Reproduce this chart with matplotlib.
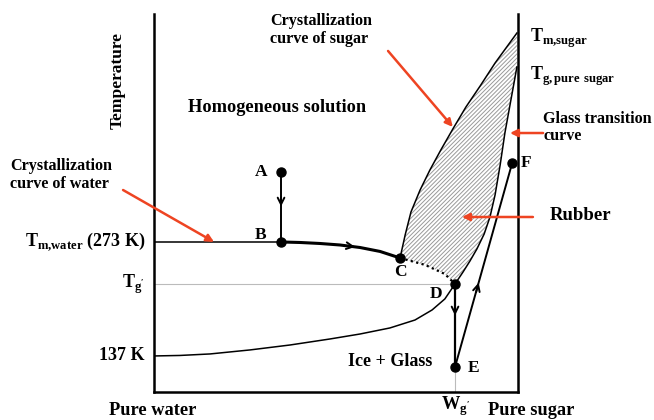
import matplotlib
matplotlib.use('Agg')
import matplotlib.pyplot as plt

plt.rcParams['font.family'] = 'Liberation Serif'
plt.rcParams['font.weight'] = 'bold'
plt.rcParams['mathtext.fontset'] = 'custom'
plt.rcParams['mathtext.rm'] = 'Liberation Serif:bold'
plt.rcParams['mathtext.bf'] = 'Liberation Serif:bold'
plt.rcParams['hatch.color'] = '#999999'
plt.rcParams['hatch.linewidth'] = 0.7

# composition = sugar fraction (0 = pure water, 1 = pure sugar), temperature in K (schematic)
water_x = [0, 0.181, 0.349, 0.401, 0.456, 0.511, 0.566, 0.621, 0.676]
water_T = [273, 273, 273, 272.4, 271.2, 269.4, 266.4, 261.7, 253.9]

dotted_x = [0.676, 0.745, 0.799, 0.827]
dotted_T = [253.9, 245.6, 234.8, 222.9]

glass_x = [0, 0.071, 0.154, 0.264, 0.374, 0.484, 0.566, 0.648, 0.717, 0.764, 0.799, 0.827,
           0.849, 0.868, 0.887, 0.907, 0.923, 0.937, 0.951, 0.964, 0.978, 0.997]
glass_T = [137, 137.6, 139.4, 144.2, 150.1, 157.3, 163.2, 170.4, 179.9, 191.9, 205.0, 222.9,
           237.2, 250.3, 264.6, 282.5, 302.8, 329.1, 364.9, 403.0, 436.4, 481.8]

sugar_x = [0.676, 0.690, 0.706, 0.731, 0.758, 0.788, 0.821, 0.857, 0.896, 0.937, 0.973, 0.997]
sugar_T = [253.9, 281.4, 308.8, 335.0, 358.9, 382.8, 407.8, 434.1, 459.1, 486.5, 508.0, 522.3]

points = {'A': (0.349, 356.5), 'B': (0.349, 273), 'C': (0.676, 253.9),
          'D': (0.827, 222.9), 'E': (0.827, 123.9), 'F': (0.984, 367.2)}

T_m_water = 273
T_g_prime = 222.9
T_low = 137
T_g_sugar = 481.8
T_m_sugar = 522.3

red = '#ee4422'

fig = plt.figure(figsize=(6.54, 4.2), dpi=100)
ax = fig.add_axes([154 / 654, 28 / 420, 364 / 654, 378 / 420])
ax.set_xlim(0, 1)
ax.set_ylim(94, 545)
ax.set_xticks([])
ax.set_yticks([])
ax.spines['top'].set_visible(False)
for s in ['left', 'bottom', 'right']:
    ax.spines[s].set_linewidth(1.8)

# hatched rubber region
d = glass_x.index(points['D'][0])
poly_x = sugar_x + glass_x[d:][::-1] + dotted_x[::-1]
poly_T = sugar_T + glass_T[d:][::-1] + dotted_T[::-1]
ax.fill(poly_x, poly_T, facecolor='none', edgecolor='#999999', hatch='////////', linewidth=0)

# reference lines
ax.plot([0, points['D'][0]], [T_g_prime, T_g_prime], color='#bbbbbb', lw=0.8)
ax.plot([points['E'][0], points['E'][0]], [94, points['E'][1]], color='#bbbbbb', lw=0.8)

# curves
ax.plot(water_x[:3], water_T[:3], color='black', lw=1.1)
ax.plot(water_x[2:], water_T[2:], color='black', lw=2.2)
ax.plot(dotted_x, dotted_T, color='black', lw=1.6, ls=(0, (1, 1.5)))
ax.plot(glass_x, glass_T, color='black', lw=1.1)
ax.plot(sugar_x, sugar_T, color='black', lw=1.1)

# path A-B, D-E, E-F
ax.plot([points['A'][0], points['B'][0]], [points['A'][1], points['B'][1]], color='black', lw=1.4)
ax.plot([points['D'][0], points['E'][0]], [points['D'][1], points['E'][1]], color='black', lw=1.6)
ax.plot([points['E'][0], points['F'][0]], [points['E'][1], points['F'][1]], color='black', lw=1.4)

for k in ['A', 'B', 'C', 'D', 'E', 'F']:
    ax.plot(*points[k], 'o', color='black', ms=6.5, clip_on=False, zorder=5)

# direction chevrons
chev = dict(arrowstyle='->', color='black', lw=1.4, mutation_scale=12)
ax.annotate('', xy=(0.349, 312), xytext=(0.349, 330), arrowprops=chev)
ax.annotate('', xy=(0.56, 266.6), xytext=(0.53, 268.5), arrowprops=chev)
ax.annotate('', xy=(0.827, 182), xytext=(0.827, 198), arrowprops=chev)
ax.annotate('', xy=(0.894, 227.7), xytext=(0.883, 210), arrowprops=chev)

# red pointer arrows
red_arrows = [((-0.085, 335), (0.165, 273)),
              ((0.643, 500.9), (0.821, 410.2)),
              ((1.069, 403), (0.978, 403)),
              ((1.041, 302.8), (0.846, 302.8))]
for start, end in red_arrows:
    ax.annotate('', xy=end, xytext=start, annotation_clip=False,
                arrowprops=dict(arrowstyle='-|>', color=red, lw=1.8, mutation_scale=11, shrinkA=0, shrinkB=0))

ax.text(-0.099, 466, 'Temperature', rotation=90, ha='center', va='center', fontsize=12.5)
ax.text(0.093, 432.9, 'Homogeneous solution', ha='left', va='center', fontsize=13.2)
ax.text(0.319, 526, 'Crystallization\ncurve of sugar', ha='left', va='center', fontsize=11.6, linespacing=1.1)
ax.text(-0.396, 353, 'Crystallization\ncurve of water', ha='left', va='center', fontsize=11.6, linespacing=1.1)
ax.text(1.033, T_m_sugar - 7, r'T$_{\mathrm{m{,}sugar}}$', ha='left', va='center', fontsize=13)
ax.text(1.033, T_g_sugar - 11, r'T$_{\mathrm{g{,}\,pure\ sugar}}$', ha='left', va='center', fontsize=13)
ax.text(1.069, 410, 'Glass transition\ncurve', ha='left', va='center', fontsize=11.6, linespacing=1.1)
ax.text(1.088, 304, 'Rubber', ha='left', va='center', fontsize=13.5)
ax.text(0.648, 129.8, 'Ice + Glass', ha='center', va='center', fontsize=13)

labels = {'A': (0.294, 356.5), 'B': (0.294, 281), 'C': (0.676, 237.2),
          'D': (0.775, 211), 'E': (0.879, 122.7), 'F': (1.022, 367)}
for k, (lx, ly) in labels.items():
    ax.text(lx, ly, k, ha='center', va='center', fontsize=12.5)

ax.text(-0.025, T_m_water, r'T$_{\mathrm{m{,}water}}$ (273 K)', ha='right', va='center', fontsize=13)
ax.text(-0.025, T_g_prime, r"T$_{\mathrm{g'}}$", ha='right', va='center', fontsize=13)
ax.text(-0.025, T_low, '137 K', ha='right', va='center', fontsize=13)
ax.text(-0.003, 72.5, 'Pure water', ha='center', va='center', fontsize=13.2)
ax.text(0.827, 76.5, r"W$_{\mathrm{g'}}$", ha='center', va='center', fontsize=13.2)
ax.text(1.036, 72.5, 'Pure sugar', ha='center', va='center', fontsize=13.2)

fig.savefig('out.png', dpi=100)
